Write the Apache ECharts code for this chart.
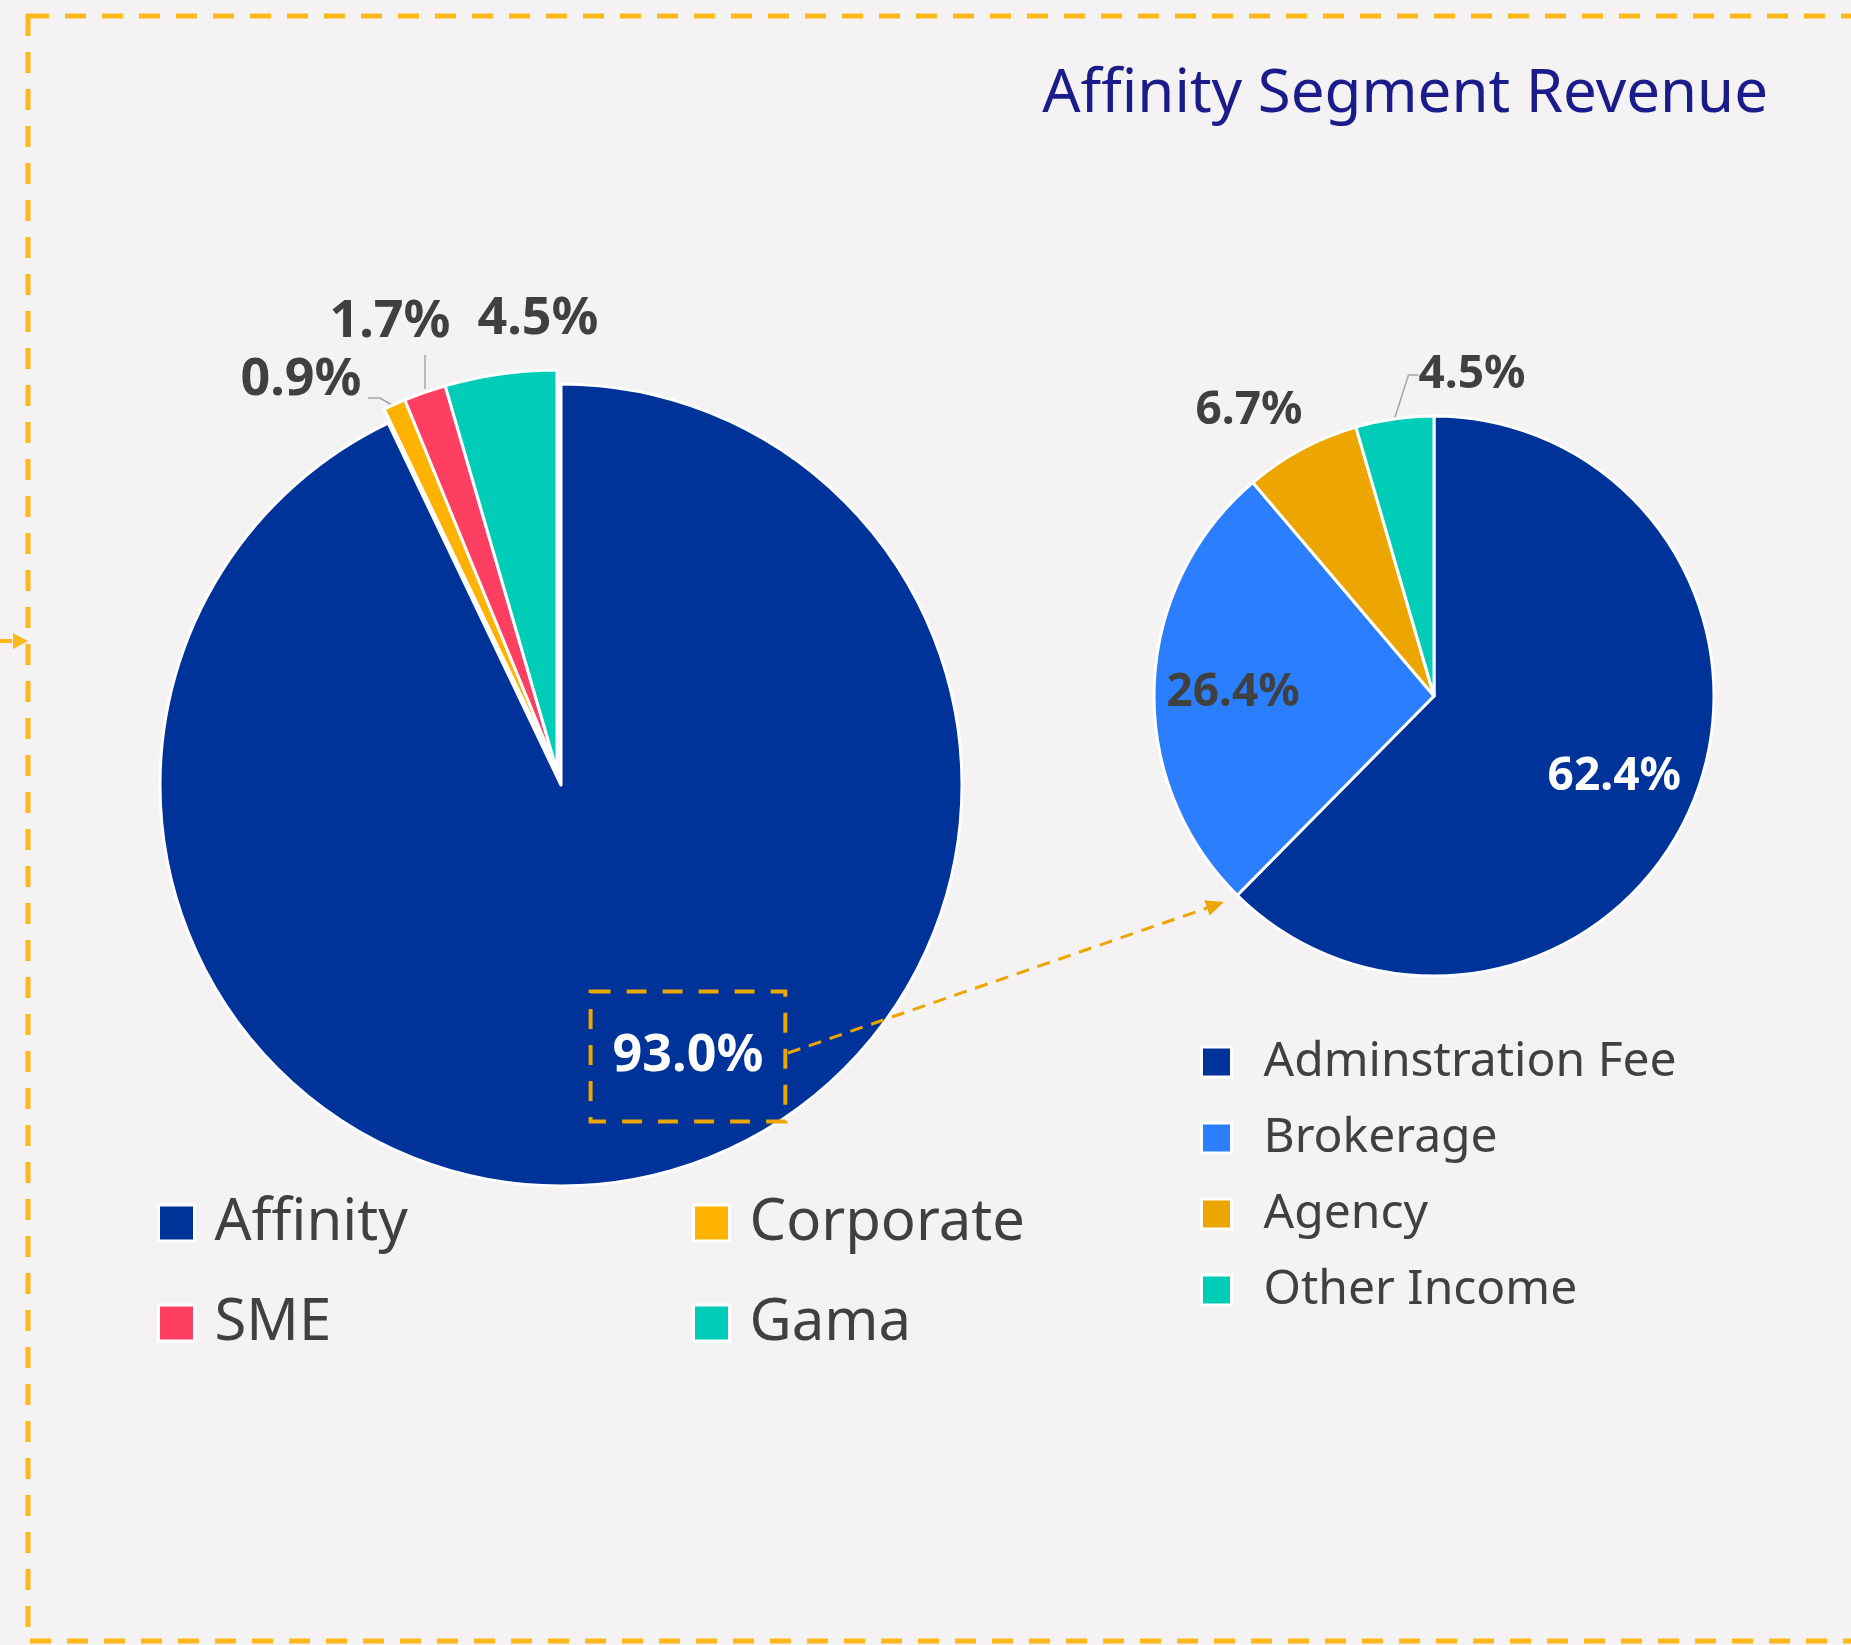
<!DOCTYPE html>
<html>
<head>
<meta charset="utf-8">
<script src="https://cdn.jsdelivr.net/npm/echarts@6/dist/echarts.min.js"></script>
<style>
html, body { margin: 0; padding: 0; background: #F4F2F3; }
#main { width: 1851px; height: 1645px; }
</style>
</head>
<body>
<div id="main"></div>
<script>
var myChart = echarts.init(document.getElementById('main'));

// left pie: segment split
var segNames = ['Affinity', 'Corporate', 'SME', 'Gama'];
var segValues = [93.0, 0.9, 1.7, 4.5];
// right pie: affinity revenue split
var affNames = ['Adminstration Fee', 'Brokerage', 'Agency', 'Other Income'];
var affValues = [62.4, 26.4, 6.7, 4.5];

var segColors = ['#003399', '#FFB300', '#FF3F62', '#00CDB8'];
var affColors = ['#003399', '#2B7FFF', '#EDA500', '#00CDB8'];

var FONT = '"Noto Sans", "Open Sans", sans-serif';
var DARK = '#404040';

function pct(p) {
    return p.value.toFixed(1) + '%';
}

var hidden = {
    itemStyle: { color: 'transparent', borderWidth: 0 },
    label: { show: false },
    labelLine: { show: false }
};

// main slice (Affinity) drawn in place
var segMain = segNames.map(function (n, i) {
    if (i > 0) return Object.assign({ name: n, value: segValues[i] }, hidden);
    return {
        name: n,
        value: segValues[i],
        label: {
            position: 'inside',
            color: '#fff',
            padding: [38, 22, 40, 22],
            borderColor: '#EDA500',
            borderWidth: 4,
            borderType: [20, 16]
        }
    };
});

// small slices pulled out a little
var segSmall = segNames.map(function (n, i) {
    if (i === 0) return Object.assign({ name: n, value: segValues[i] }, hidden);
    var item = { name: n, value: segValues[i] };
    if (i === 3) item.labelLine = { show: false };
    return item;
});

var affData = affNames.map(function (n, i) {
    var item = { name: n, value: affValues[i] };
    if (i === 0) item.label = { position: 'inside', color: '#fff' };
    if (i === 1) item.label = { position: 'inside', color: DARK };
    if (i === 2) item.labelLine = { show: false };
    return item;
});

var legendText = { color: DARK, fontSize: 58, lineHeight: 64, fontFamily: FONT, padding: [0, 0, 0, 15] };

function legendItems(names, colors, all) {
    return names.map(function (n) {
        return { name: n, itemStyle: { color: colors[all.indexOf(n)] } };
    });
}

var segLabel = {
    formatter: pct,
    color: DARK,
    fontSize: 52,
    fontWeight: 'bold',
    fontFamily: FONT
};
var greyLine = {
    show: true,
    length: 10,
    length2: 10,
    lineStyle: { color: '#A6A6A6', width: 1.5 }
};

option = {
    animation: false,
    backgroundColor: '#F4F2F3',
    title: {
        text: 'Affinity Segment Revenue',
        right: 78,
        top: 60,
        textStyle: {
            color: '#1B1B8A',
            fontSize: 60,
            fontWeight: 'normal',
            fontFamily: FONT
        }
    },
    legend: [{
        data: legendItems(['Affinity', 'SME'], segColors, segNames),
        orient: 'vertical',
        left: 152,
        top: 1186,
        itemWidth: 36,
        itemHeight: 36,
        itemGap: 36,
        icon: 'rect',
        itemStyle: { borderColor: '#fff', borderWidth: 3 },
        textStyle: legendText
    }, {
        data: legendItems(['Corporate', 'Gama'], segColors, segNames),
        orient: 'vertical',
        left: 687,
        top: 1186,
        itemWidth: 36,
        itemHeight: 36,
        itemGap: 36,
        icon: 'rect',
        itemStyle: { borderColor: '#fff', borderWidth: 3 },
        textStyle: legendText
    }, {
        data: legendItems(affNames, affColors, affNames),
        orient: 'vertical',
        left: 1195,
        top: 1030,
        itemWidth: 30,
        itemHeight: 30,
        itemGap: 22,
        icon: 'rect',
        itemStyle: { borderColor: '#fff', borderWidth: 3 },
        textStyle: { color: DARK, fontSize: 48, lineHeight: 54, fontFamily: FONT, padding: [0, 0, 0, 27] }
    }],
    graphic: [
        {
            type: 'rect',
            shape: { x: 28, y: 16, width: 1900, height: 1625 },
            style: { fill: 'none', stroke: '#FFB81C', lineWidth: 5, lineDash: [21, 16] },
            silent: true
        },
        {
            type: 'line',
            shape: { x1: 0, y1: 641, x2: 12, y2: 641 },
            style: { stroke: '#FFB81C', lineWidth: 4 },
            silent: true
        },
        {
            type: 'polygon',
            shape: { points: [[13, 633], [28, 641], [13, 649]] },
            style: { fill: '#FFB81C' },
            silent: true
        },
        {
            type: 'line',
            shape: { x1: 788, y1: 1053, x2: 1207, y2: 908 },
            style: { stroke: '#EDA500', lineWidth: 3, lineDash: [13, 9] },
            z: 10,
            silent: true
        },
        {
            type: 'polygon',
            shape: { points: [[1209.6, 915.5], [1224, 902], [1204.4, 900.3]] },
            style: { fill: '#EDA500' },
            z: 10,
            silent: true
        }
    ],
    series: [
        {
            name: 'Segment',
            type: 'pie',
            center: [561, 785],
            radius: 401,
            startAngle: 90,
            avoidLabelOverlap: false,
            color: segColors,
            itemStyle: { borderColor: '#fff', borderWidth: 3 },
            emphasis: { disabled: true },
            label: Object.assign({ position: 'inside' }, segLabel),
            labelLine: { show: false },
            labelLayout: function (p) {
                if (p.dataIndex === 0) return { dx: 82, dy: 73 };
            },
            data: segMain
        },
        {
            name: 'Segment (other)',
            type: 'pie',
            center: [557, 771],
            radius: 401,
            startAngle: 90,
            avoidLabelOverlap: false,
            color: segColors,
            itemStyle: { borderColor: '#fff', borderWidth: 3 },
            emphasis: { disabled: true },
            label: Object.assign({ position: 'outside' }, segLabel),
            labelLine: greyLine,
            labelLayout: function (p) {
                if (p.dataIndex === 1) {
                    return { x: 301, y: 380, align: 'center', verticalAlign: 'middle',
                        labelLinePoints: [[392, 405], [380, 398], [368, 398]] };
                }
                if (p.dataIndex === 2) {
                    return { x: 390, y: 322, align: 'center', verticalAlign: 'middle',
                        labelLinePoints: [[425, 389], [425, 372], [425, 355]] };
                }
                if (p.dataIndex === 3) {
                    return { x: 538, y: 319, align: 'center', verticalAlign: 'middle' };
                }
            },
            data: segSmall
        },
        {
            name: 'Affinity Revenue',
            type: 'pie',
            center: [1434, 696],
            radius: 280,
            startAngle: 90,
            avoidLabelOverlap: false,
            color: affColors,
            itemStyle: { borderColor: '#fff', borderWidth: 3 },
            emphasis: { disabled: true },
            label: {
                position: 'outside',
                formatter: pct,
                color: DARK,
                fontSize: 46,
                fontWeight: 'bold',
                fontFamily: FONT
            },
            labelLine: greyLine,
            labelLayout: function (p) {
                if (p.dataIndex === 0) return { dx: 48, dy: 27 };
                if (p.dataIndex === 1) return { dx: -58, dy: 2 };
                var pos = [null, null, [1249, 411], [1472, 375]][p.dataIndex];
                return { x: pos[0], y: pos[1], align: 'center', verticalAlign: 'middle' };
            },
            data: affData
        }
    ]
};

myChart.setOption(option);
</script>
</body>
</html>
